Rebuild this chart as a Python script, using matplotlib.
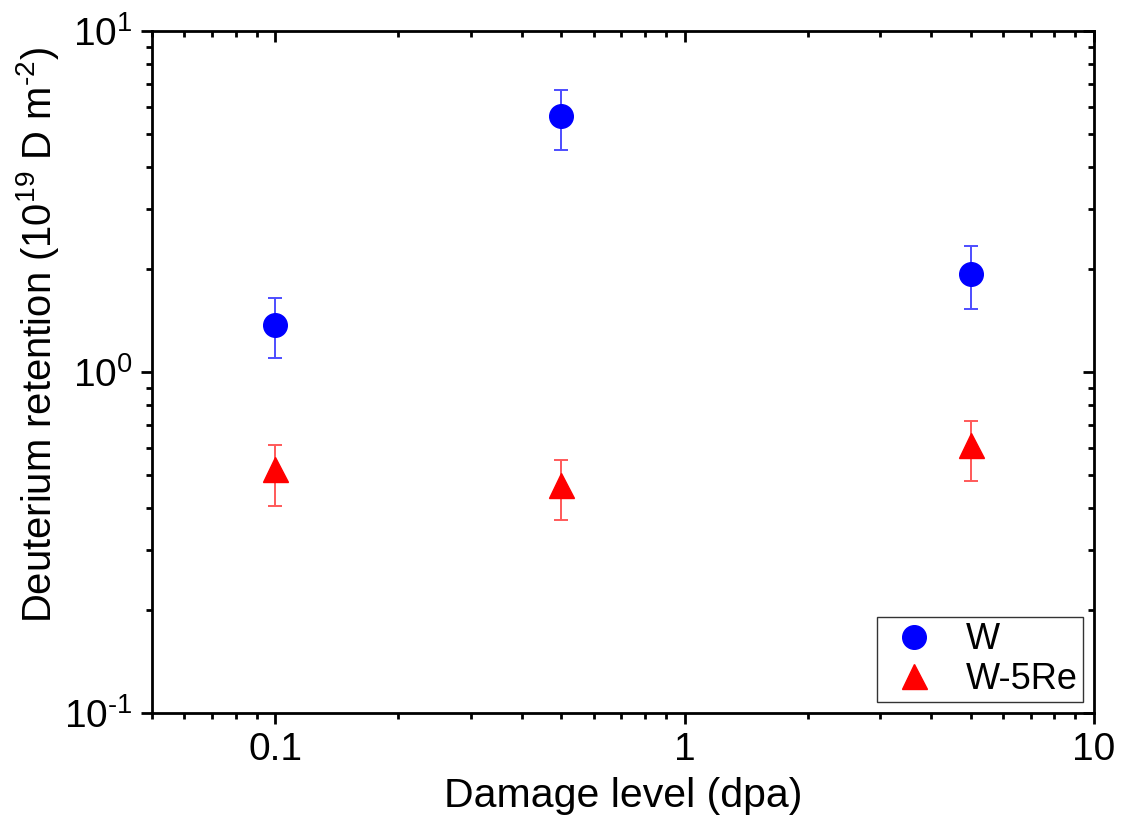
import matplotlib
matplotlib.use("Agg")
import matplotlib.pyplot as plt
from matplotlib.ticker import LogLocator, FixedLocator, FixedFormatter, NullFormatter
import numpy as np

plt.rcParams['font.family'] = ['Liberation Sans', 'DejaVu Sans']
plt.rcParams['mathtext.fontset'] = 'custom'
plt.rcParams['mathtext.rm'] = 'Liberation Sans'
plt.rcParams['mathtext.it'] = 'Liberation Sans'

dpa = [0.1, 0.5, 5.0]
w_ret = [1.37, 5.63, 1.94]
w_err_lo = [0.27, 1.15, 0.41]
w_err_hi = [0.28, 1.08, 0.40]
wre_ret = [0.521, 0.466, 0.611]
wre_err_lo = [0.116, 0.098, 0.132]
wre_err_hi = [0.090, 0.086, 0.107]

HY = '\u2010'

fig = plt.figure(figsize=(11.27, 8.22), dpi=100)
ax = fig.add_axes([152/1127, 1-713/822, (1094-152)/1127, (713-31)/822])

ax.errorbar(dpa, w_ret, yerr=[w_err_lo, w_err_hi], fmt='none', ecolor=(0.3, 0.3, 1.0),
            elinewidth=1.4, capsize=5, capthick=1.4, zorder=2)
ax.errorbar(dpa, wre_ret, yerr=[wre_err_lo, wre_err_hi], fmt='none', ecolor=(1.0, 0.35, 0.35),
            elinewidth=1.4, capsize=5, capthick=1.4, zorder=2)
ax.plot(dpa, w_ret, 'o', color='#0000ff', markersize=17, linestyle='none', label='W', zorder=3)
ax.plot(dpa, wre_ret, '^', color='#ff0000', markersize=18, linestyle='none', label='W-5Re', zorder=3)

ax.set_xscale('log')
ax.set_yscale('log')
ax.set_xlim(0.05, 10)
ax.set_ylim(0.1, 10)

ax.xaxis.set_major_locator(FixedLocator([0.1, 1, 10]))
ax.xaxis.set_major_formatter(FixedFormatter(['0.1', '1', '10']))
ax.xaxis.set_minor_locator(LogLocator(base=10, subs=np.arange(2, 10)))
ax.xaxis.set_minor_formatter(NullFormatter())
ax.yaxis.set_major_locator(FixedLocator([0.1, 1, 10]))
ax.yaxis.set_major_formatter(FixedFormatter(['$\\mathregular{10^{' + HY + '1}}$',
                                             '$\\mathregular{10^{0}}$',
                                             '$\\mathregular{10^{1}}$']))
ax.yaxis.set_minor_locator(LogLocator(base=10, subs=np.arange(2, 10)))
ax.yaxis.set_minor_formatter(NullFormatter())

for s in ax.spines.values():
    s.set_linewidth(2.0)

ax.tick_params(axis='both', which='major', direction='out', length=8, width=2.0, labelsize=28, pad=6)
ax.tick_params(axis='both', which='minor', direction='out', length=4, width=2.0)
ax.tick_params(top=True, right=True, which='both')
for tick in ax.xaxis.get_major_ticks() + ax.xaxis.get_minor_ticks():
    tick.tick2line.set_marker(matplotlib.lines.TICKDOWN)
for tick in ax.yaxis.get_major_ticks() + ax.yaxis.get_minor_ticks():
    tick.tick2line.set_marker(matplotlib.lines.TICKLEFT)

ax.set_xlabel('Damage level (dpa)', fontsize=29.5, va='baseline')
ax.xaxis.set_label_coords(0.5, -0.138)
ax.set_ylabel('Deuterium retention (10$^{\\mathregular{19}}$ D m$^{\\mathregular{' + HY + '2}}$)',
              fontsize=28.8)
ax.yaxis.set_label_coords(-0.097, 0.554)

leg = ax.legend(loc='lower right', fontsize=26, frameon=True, fancybox=False,
                edgecolor='black', borderpad=0.15, handletextpad=0.6, labelspacing=0.12,
                borderaxespad=0.3, handlelength=1.7)
leg.get_frame().set_linewidth(1.0)

fig.savefig('out.png', dpi=100)
